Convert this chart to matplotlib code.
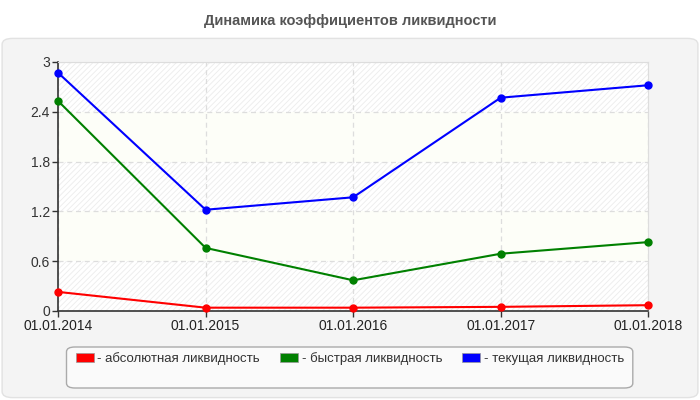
import matplotlib.pyplot as plt
from matplotlib.patches import FancyBboxPatch, Patch

plt.rcParams['font.family'] = ['Liberation Sans', 'DejaVu Sans']
plt.rcParams['hatch.linewidth'] = 0.6
plt.rcParams['hatch.color'] = '#e6e6e6'

## Data
dates = ["01.01.2014", "01.01.2015", "01.01.2016", "01.01.2017", "01.01.2018"]
absolute = [0.23, 0.04, 0.04, 0.05, 0.07]
quick = [2.53, 0.76, 0.37, 0.69, 0.83]
current = [2.87, 1.22, 1.37, 2.57, 2.72]
yticks = [0, 0.6, 1.2, 1.8, 2.4, 3]
labels = ["- абсолютная ликвидность", "- быстрая ликвидность", "- текущая ликвидность"]
colors = ["#ff0000", "#008000", "#0000ff"]

fig = plt.figure(figsize=(7, 4), dpi=100)
fig.patch.set_facecolor('white')

# grey rounded panel
panel = FancyBboxPatch((0.003, 0.006), 0.994, 0.898, boxstyle="round,pad=0,rounding_size=0.015",
                       transform=fig.transFigure, facecolor='#f4f4f4', edgecolor='#e2e2e2', lw=1, zorder=-10)
fig.patches.append(panel)

fig.text(0.5, 0.948, "Динамика коэффициентов ликвидности", ha='center', va='center',
         fontsize=10.5, fontweight='bold', color='#555555')

ax = fig.add_axes([0.083, 0.2225, 0.843, 0.6225])
ax.set_facecolor('white')
x = list(range(len(dates)))

# alternating bands
for i in range(len(yticks) - 1):
    if i % 2 == 0:
        ax.axhspan(yticks[i], yticks[i + 1], facecolor='white', hatch='//////', edgecolor='#ececec', lw=0, zorder=0)
    else:
        ax.axhspan(yticks[i], yticks[i + 1], facecolor='#fdfef8', lw=0, zorder=0)

ax.grid(True, color='#dddddd', linestyle=(0, (4, 3)), lw=0.9, zorder=1)

for vals, c in zip([absolute, quick, current], colors):
    ax.plot(x, vals, color=c, lw=1.5, marker='o', markersize=5, zorder=3, clip_on=False)

ax.set_xlim(0, 4)
ax.set_ylim(0, 3)
ax.set_xticks(x)
ax.set_xticklabels(dates)
ax.set_yticks(yticks)
ax.set_yticklabels(["0", "0.6", "1.2", "1.8", "2.4", "3"])
ax.tick_params(axis='both', labelsize=10, colors='#333333', length=4, width=1, pad=2)
ax.tick_params(axis='x', labelcolor='#222222')
for s in ['top', 'right']:
    ax.spines[s].set_color('#dddddd')
for s in ['left', 'bottom']:
    ax.spines[s].set_color('#333333')
    ax.spines[s].set_linewidth(1.2)

# legend box
lbox = FancyBboxPatch((0.095, 0.03), 0.809, 0.1025, boxstyle="round,pad=0,rounding_size=0.012",
                      transform=fig.transFigure, facecolor='#fafafa', edgecolor='#aaaaaa', lw=1, zorder=-5)
fig.patches.append(lbox)
handles = [Patch(facecolor=c, edgecolor='#999999', lw=0.5) for c in colors]
fig.legend(handles, labels, loc='center left', bbox_to_anchor=(0.091, 0.103), ncol=3, frameon=False,
           fontsize=9.5, handlelength=1.4, handleheight=0.7, handletextpad=0.25, columnspacing=1.5,
           labelcolor='#333333')

fig.savefig("out.png", dpi=100, facecolor=fig.get_facecolor())
